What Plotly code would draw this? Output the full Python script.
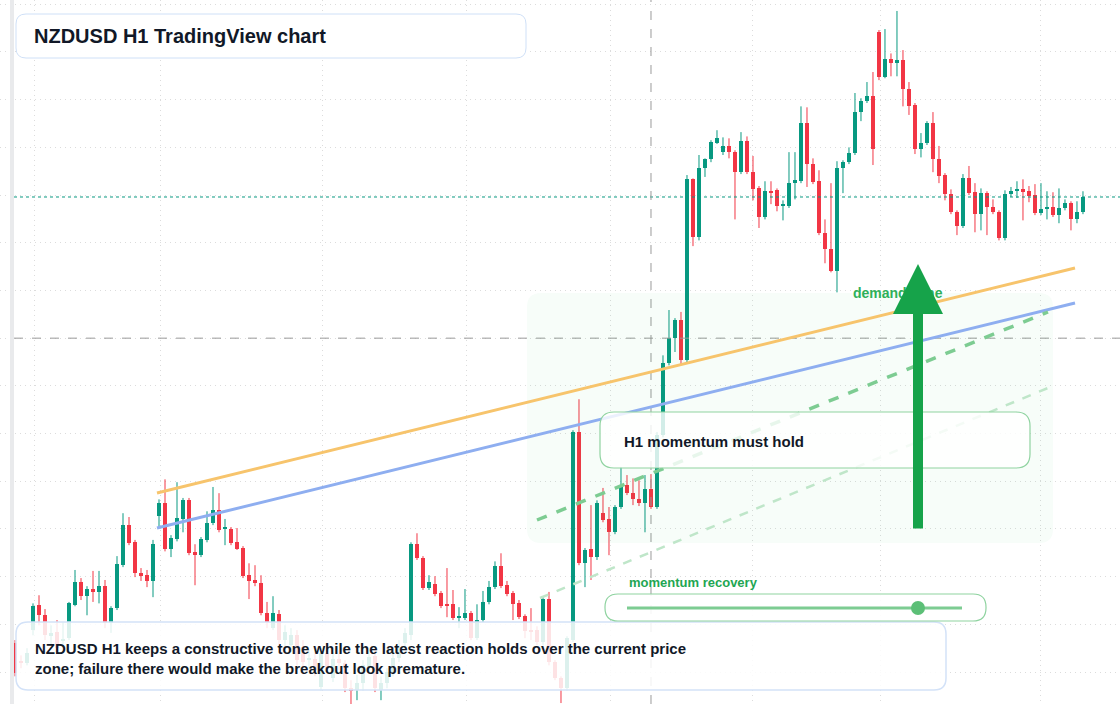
import plotly.graph_objects as go

W, H = 1120, 704

# candle readings (chart pixel rows from the reference), one tuple per hour: open, close, high, low
candles = [
    (643, 673, 640, 676), (661, 662, 655, 668), (663, 653, 648, 665), (630, 606, 603, 635),
    (605, 615, 595, 625), (615, 635, 609, 640), (636, 633, 625, 645), (632, 648, 620, 650),
    (640, 640, 622, 648), (638, 603, 602, 640), (605, 582, 570, 606), (582, 596, 578, 600),
    (596, 589, 586, 615), (589, 592, 571, 602), (592, 586, 571, 603), (586, 623, 580, 628),
    (623, 608, 606, 633), (608, 564, 556, 610), (565, 525, 513, 567), (525, 543, 517, 545),
    (542, 573, 540, 577), (573, 576, 568, 581), (575, 581, 570, 587), (581, 544, 540, 597),
    (516, 503, 499, 528), (503, 549, 479, 551), (549, 538, 535, 557), (539, 518, 482, 541),
    (519, 500, 498, 532), (500, 553, 498, 555), (552, 555, 544, 585), (555, 539, 537, 557),
    (540, 523, 511, 542), (523, 510, 487, 525), (510, 530, 493, 532), (529, 529, 519, 545),
    (529, 543, 527, 545), (542, 549, 528, 550), (548, 576, 546, 578), (575, 581, 563, 599),
    (580, 583, 565, 586), (583, 613, 575, 615), (613, 622, 602, 628), (628, 613, 596, 630),
    (614, 640, 610, 645), (640, 632, 625, 646), (645, 635, 628, 652), (635, 660, 630, 665),
    (647, 662, 640, 668), (659, 659, 650, 668), (659, 670, 652, 676), (687, 653, 648, 690),
    (653, 668, 645, 672), (678, 659, 652, 682), (659, 663, 650, 670), (663, 688, 660, 692),
    (688, 690, 680, 704), (690, 683, 675, 700), (683, 665, 660, 690), (667, 657, 650, 672),
    (656, 688, 650, 692), (690, 683, 676, 700), (683, 672, 668, 688), (672, 658, 652, 676),
    (658, 647, 640, 662), (643, 633, 628, 648), (635, 544, 542, 640), (544, 558, 533, 560),
    (558, 588, 556, 590), (588, 582, 575, 590), (584, 594, 576, 596), (593, 606, 591, 608),
    (604, 605, 568, 617), (604, 618, 590, 620), (617, 617, 607, 628), (618, 613, 589, 620),
    (613, 638, 611, 640), (638, 620, 604, 640), (620, 602, 591, 622), (602, 587, 581, 604),
    (587, 566, 561, 589), (566, 586, 553, 588), (585, 594, 581, 596), (593, 604, 591, 620),
    (603, 617, 600, 619), (616, 631, 614, 638), (630, 631, 608, 640), (630, 642, 626, 645),
    (642, 599, 596, 645), (599, 662, 592, 665), (662, 678, 660, 680), (678, 688, 676, 703),
    (688, 638, 636, 690), (640, 432, 430, 642), (432, 563, 399, 565), (563, 550, 548, 587),
    (549, 557, 505, 580), (557, 503, 500, 560), (513, 520, 488, 522), (519, 532, 507, 555),
    (532, 507, 505, 534), (507, 485, 467, 509), (485, 493, 475, 495), (493, 499, 478, 505),
    (499, 503, 480, 506), (503, 489, 475, 532), (489, 507, 474, 509), (507, 435, 432, 509),
    (435, 363, 355, 437), (363, 338, 310, 365), (338, 320, 318, 352), (320, 360, 312, 364),
    (360, 179, 175, 362), (179, 237, 178, 246), (237, 168, 155, 240), (168, 159, 158, 177),
    (159, 142, 140, 162), (143, 138, 130, 144), (152, 146, 137, 155), (146, 152, 138, 158),
    (152, 172, 150, 219), (172, 141, 132, 174), (141, 172, 136, 174), (172, 189, 156, 200),
    (188, 217, 186, 228), (217, 191, 181, 219), (191, 192, 181, 204), (190, 206, 188, 211),
    (205, 205, 200, 220), (206, 183, 152, 208), (183, 180, 152, 199), (181, 123, 106, 183),
    (123, 164, 107, 187), (164, 182, 158, 184), (181, 233, 170, 235), (233, 249, 219, 263),
    (249, 271, 183, 272), (271, 168, 161, 292), (168, 162, 160, 193), (162, 153, 147, 164),
    (153, 112, 93, 155), (112, 101, 98, 121), (101, 96, 82, 103), (96, 149, 72, 165),
    (32, 77, 30, 80), (77, 59, 29, 78), (59, 63, 53, 76), (63, 60, 11, 76),
    (60, 89, 50, 106), (89, 106, 82, 115), (105, 149, 103, 154), (149, 143, 133, 157),
    (143, 123, 121, 145), (123, 159, 112, 172), (159, 176, 146, 183), (175, 194, 173, 200),
    (194, 212, 189, 214), (212, 226, 210, 235), (226, 178, 174, 228), (178, 193, 166, 195),
    (192, 214, 183, 232), (214, 193, 188, 230), (193, 207, 191, 235), (207, 212, 199, 214),
    (212, 238, 210, 240), (238, 194, 190, 240), (194, 191, 187, 197), (190, 189, 181, 198),
    (189, 192, 179, 220), (191, 196, 186, 202), (195, 213, 184, 215), (213, 209, 183, 215),
    (209, 207, 191, 219), (207, 215, 192, 217), (215, 208, 188, 223), (208, 203, 199, 210),
    (203, 219, 201, 230), (219, 212, 201, 223), (212, 197, 191, 214),
]


def price(row):
    # 1 grid step (47.7 px) = 10 pips, 0.5900 on the dashed crosshair
    return round(0.5900 + (338 - row) / 47700, 5)


idx = list(range(len(candles)))
opens = [price(c[0]) for c in candles]
closes = [price(c[1]) for c in candles]
highs = [price(c[2]) for c in candles]
lows = [price(c[3]) for c in candles]
last_price = closes[-1]

grid_idx = [3.17, 24.17, 51.17, 75.17, 99.17, 123, 144.17, 171]

GREEN, RED = "#089981", "#f23645"


def px(x):
    return x / W


def py(y):
    return 1 - y / H


def rrect(x0, y0, x1, y1, r):
    a, b, c, d = px(x0), py(y0), px(x1), py(y1)
    rx, ry = r / W, r / H
    return (f"M{a+rx},{b} L{c-rx},{b} Q{c},{b} {c},{b-ry} L{c},{d+ry} Q{c},{d} {c-rx},{d} "
            f"L{a+rx},{d} Q{a},{d} {a},{d+ry} L{a},{b-ry} Q{a},{b} {a+rx},{b} Z")


fig = go.Figure()
for up, col in ((True, GREEN), (False, RED)):
    sel = [i for i in idx if (closes[i] >= opens[i]) == up]
    wx, wy = [], []
    for i in sel:
        wx += [i, i, None]
        wy += [lows[i], highs[i], None]
    fig.add_trace(go.Scatter(x=wx, y=wy, mode="lines", line=dict(color=col, width=1),
                             showlegend=False, hoverinfo="skip"))
    fig.add_trace(go.Bar(x=sel, base=[min(opens[i], closes[i]) for i in sel],
                         y=[max(abs(closes[i] - opens[i]), 0.00003) for i in sel],
                         width=0.74, marker=dict(color=col, line_width=0),
                         showlegend=False, hoverinfo="skip"))

shapes = []
P = dict(xref="paper", yref="paper", layer="above")
shapes.append(dict(type="rect", x0=px(10), x1=px(14), y0=0, y1=1, fillcolor="#e9eaec", line_width=0, **P))
shapes.append(dict(type="line", x0=px(14), x1=1, y0=last_price, y1=last_price, xref="paper", yref="y",
                   line=dict(color=GREEN, width=1, dash="dot"), layer="above"))
shapes.append(dict(type="line", x0=px(14), x1=1, y0=0.59, y1=0.59, xref="paper", yref="y",
                   line=dict(color="#9a9a9a", width=1, dash="dash"), layer="above"))
shapes.append(dict(type="line", x0=106, x1=106, y0=0, y1=1, xref="x", yref="paper",
                   line=dict(color="#9a9a9a", width=1, dash="dash"), layer="above"))
# demand zone tint
shapes.append(dict(type="path", path=rrect(527, 293, 1053, 543, 14), fillcolor="rgba(34,197,94,0.035)", line_width=0, **P))
# trend lines
shapes.append(dict(type="line", x0=px(157), y0=py(493), x1=px(1075), y1=py(268), line=dict(color="#f7c46c", width=3), **P))
shapes.append(dict(type="line", x0=px(157), y0=py(528), x1=px(1075), y1=py(303), line=dict(color="#8eaef0", width=3), **P))
shapes.append(dict(type="line", x0=px(537), y0=py(520), x1=px(1048), y1=py(312), line=dict(color="#7dcc92", width=3.5, dash="dash"), **P))
shapes.append(dict(type="line", x0=px(540), y0=py(598), x1=px(1048), y1=py(388), line=dict(color="#bfe6c9", width=2.5, dash="dash"), **P))
# boxes
shapes.append(dict(type="path", path=rrect(16, 14, 526, 58, 10), fillcolor="rgba(255,255,255,0.95)", line=dict(color="#cfe0f7", width=1), **P))
shapes.append(dict(type="path", path=rrect(16, 622, 946, 690, 12), fillcolor="rgba(255,255,255,0.86)", line=dict(color="#d3e2f8", width=1.5), **P))
shapes.append(dict(type="path", path=rrect(600, 412, 1030, 468, 14), fillcolor="rgba(255,255,255,0.82)", line=dict(color="#8fd3a0", width=1.2), **P))
shapes.append(dict(type="path", path=rrect(605, 594, 986, 621, 13), fillcolor="rgba(255,255,255,0.9)", line=dict(color="#8fd3a0", width=1.2), **P))
shapes.append(dict(type="line", x0=px(627), y0=py(608), x1=px(962), y1=py(608), line=dict(color="#7dcc92", width=3), **P))
shapes.append(dict(type="circle", x0=px(911), y0=py(601), x1=px(925), y1=py(615), fillcolor="#5cbf77", line_width=0, **P))

ann = []
A = dict(xref="paper", yref="paper", xanchor="left", yanchor="middle", showarrow=False)
ann.append(dict(x=px(32), y=py(36), text="<b>NZDUSD H1 TradingView chart</b>", font=dict(size=20, color="#111827"), **A))
ann.append(dict(x=px(33), y=py(658), text="<b>NZDUSD H1 keeps a constructive tone while the latest reaction holds over the current price<br>zone; failure there would make the breakout look premature.</b>",
                align="left", font=dict(size=15, color="#111827"), **A))
ann.append(dict(x=px(622), y=py(441), text="<b>H1 momentum must hold</b>", font=dict(size=15, color="#111827"), **A))
ann.append(dict(x=px(627), y=py(582), text="<b>momentum recovery</b>", font=dict(size=13, color="#22a652"), **A))
ann.append(dict(x=px(851), y=py(293), text="<b>demand zone</b>", font=dict(size=14, color="#2fb05a"), **A))
# arrow drawn after the label so it sits on top of it
ann.append(dict(x=px(918), y=py(264), ax=0, ay=266, xref="paper", yref="paper",
                axref="pixel", ayref="pixel", text="", showarrow=True, arrowhead=2,
                arrowsize=1, arrowwidth=10, arrowcolor="#16a34a"))

fig.update_layout(
    width=W, height=H, margin=dict(l=0, r=0, t=0, b=0),
    paper_bgcolor="white", plot_bgcolor="white", barmode="overlay", bargap=0,
    font=dict(family="Liberation Sans, Arial, sans-serif"),
    shapes=shapes, annotations=ann,
    xaxis=dict(range=[-2.5, 184.17], tickvals=grid_idx, showticklabels=False, showgrid=True,
               gridcolor="#dcdcdc", griddash="1px,4px", zeroline=False),
    yaxis=dict(range=[price(704), price(0)], tick0=0.59, dtick=0.001, showticklabels=False,
               showgrid=True, gridcolor="#dcdcdc", griddash="1px,4px", zeroline=False),
)
fig.write_html("out.html", config={"displayModeBar": False},
               post_script="document.body.style.margin='0';")
